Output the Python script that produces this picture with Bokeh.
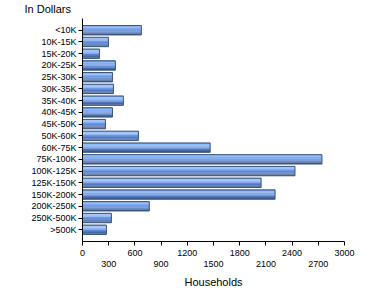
from bokeh.plotting import figure
from bokeh.models import (FactorRange, Range1d, FixedTicker, LinearAxis,
                          ColumnDataSource)
from bokeh.transform import dodge
from bokeh.embed import file_html
from bokeh.resources import INLINE

categories = ["<10K", "10K-15K", "15K-20K", "20K-25K", "25K-30K", "30K-35K",
              "35K-40K", "40K-45K", "45K-50K", "50K-60K", "60K-75K",
              "75K-100K", "100K-125K", "125K-150K", "150K-200K",
              "200K-250K", "250K-500K", ">500K"]
households = [674, 297, 194, 377, 343, 354, 468, 343, 263, 640, 1462,
              2742, 2433, 2045, 2205, 765, 331, 274]
x_ticks_all = [0, 300, 600, 900, 1200, 1500, 1800, 2100, 2400, 2700, 3000]
x_ticks_row1 = [0, 600, 1200, 1800, 2400, 3000]
x_ticks_row2 = [300, 900, 1500, 2100, 2700]

FONT = "Liberation Sans"

p = figure(width=370, height=300, output_backend="svg", toolbar_location=None,
           y_range=FactorRange(factors=list(reversed(categories)),
                               range_padding=0.5, range_padding_units="absolute"),
           x_range=Range1d(0, 3000),
           min_border_left=82, min_border_right=26,
           min_border_top=17, min_border_bottom=59,
           x_axis_type=None)
p.outline_line_color = None
p.xgrid.grid_line_color = None
p.ygrid.grid_line_color = None
p.background_fill_color = "white"
p.border_fill_color = "white"

src = ColumnDataSource(dict(cat=categories, val=households))

bar_h = 0.8
gradient = ["#6f98d8", "#8dbcfb", "#80aef5", "#6e9be8", "#5f89d6",
            "#5279bf", "#4669a6", "#3c5a8e"]
n = len(gradient)
sh = bar_h / n
for i, c in enumerate(gradient):
    off = bar_h / 2 - (i + 0.5) * sh
    p.hbar(y=dodge("cat", off, range=p.y_range), left=0, right="val",
           height=sh * 1.02, source=src, fill_color=c, line_color=None)
p.hbar(y="cat", left=0, right="val", height=bar_h, source=src,
       fill_color=None, line_color="#3d5478", line_width=1)

# y axis
ya = p.yaxis[0]
ya.axis_line_color = "black"
ya.major_tick_out = 4
ya.major_tick_in = 0
ya.minor_tick_line_color = None
ya.major_label_standoff = 2
ya.major_label_text_font = FONT
ya.major_label_text_font_size = "9px"
ya.major_label_text_color = "black"

# x axis, first row
xa1 = LinearAxis(ticker=FixedTicker(ticks=x_ticks_all))
xa1.major_label_overrides = {t: "" for t in x_ticks_row2}
xa1.axis_line_color = "black"
xa1.major_tick_out = 4
xa1.major_tick_in = 0
xa1.minor_tick_line_color = None
xa1.major_label_standoff = 4
xa1.major_label_text_font = FONT
xa1.major_label_text_font_size = "9px"
xa1.major_label_text_color = "black"
p.add_layout(xa1, "below")

# x axis, second row of labels
xa2 = LinearAxis(ticker=FixedTicker(ticks=x_ticks_row2))
xa2.axis_line_color = None
xa2.major_tick_line_color = None
xa2.major_tick_out = 0
xa2.major_tick_in = 0
xa2.minor_tick_line_color = None
xa2.major_label_standoff = 2
xa2.major_label_text_font = FONT
xa2.major_label_text_font_size = "9px"
xa2.major_label_text_color = "black"
xa2.axis_label = "Households"
xa2.axis_label_text_font = FONT
xa2.axis_label_text_font_size = "11px"
xa2.axis_label_text_font_style = "normal"
xa2.axis_label_text_color = "black"
xa2.axis_label_standoff = 6
p.add_layout(xa2, "below")

p.title.text = "In Dollars"
p.title.text_font = FONT
p.title.text_font_size = "11px"
p.title.text_font_style = "normal"
p.title.text_color = "black"
p.title.align = "left"
p.title.vertical_align = "top"
p.title.offset = -58
p.title.standoff = 4

open("out.html", "w").write(file_html(p, INLINE))
